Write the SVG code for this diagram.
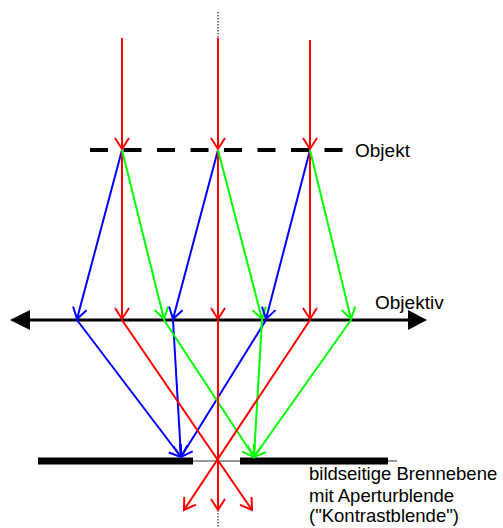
<svg xmlns="http://www.w3.org/2000/svg" width="503" height="528" viewBox="0 0 503 528">
<style>
.r{stroke:#ff0000;stroke-width:2;fill:none}
.b{stroke:#0000ff;stroke-width:2;fill:none}
.g{stroke:#00ff00;stroke-width:2;fill:none}
.t{font-family:"Liberation Sans",Arial,sans-serif;font-size:19px;fill:#000}
.s{font-size:18.5px}
</style>
<defs>
<marker id="ar" markerUnits="userSpaceOnUse" markerWidth="20" markerHeight="20" viewBox="-12 -10 14 20" refX="0" refY="0" orient="auto"><path d="M-11,-7 L0,0 L-11,7" stroke="#ff0000" stroke-width="2" fill="none"/></marker>
<marker id="ab" markerUnits="userSpaceOnUse" markerWidth="20" markerHeight="20" viewBox="-12 -10 14 20" refX="0" refY="0" orient="auto"><path d="M-11,-7 L0,0 L-11,7" stroke="#0000ff" stroke-width="2" fill="none"/></marker>
<marker id="ag" markerUnits="userSpaceOnUse" markerWidth="20" markerHeight="20" viewBox="-12 -10 14 20" refX="0" refY="0" orient="auto"><path d="M-11,-7 L0,0 L-11,7" stroke="#00ff00" stroke-width="2" fill="none"/></marker>
</defs>
<rect width="503" height="528" fill="#fff"/>
<g id="axis"><line x1="218" y1="12" x2="218" y2="528" stroke="#000" stroke-width="1" stroke-dasharray="1.5,1.5"/></g>
<g id="objekt"><line x1="90" y1="150" x2="343" y2="150" stroke="#000" stroke-width="4" stroke-dasharray="18,15.5"/><text class="t" x="355" y="157">Objekt</text></g>
<g id="objektiv"><line x1="28" y1="320" x2="410" y2="320" stroke="#000" stroke-width="3"/><polygon points="10,320 30,310 30,330" fill="#000"/><polygon points="427,320 408,310 408,330" fill="#000"/><text class="t" x="375" y="309">Objektiv</text></g>
<g id="focal-plane"><line x1="38" y1="461" x2="397" y2="461" stroke="#777" stroke-width="1.5"/><line x1="38" y1="461" x2="193" y2="461" stroke="#000" stroke-width="7"/><line x1="240" y1="461" x2="388" y2="461" stroke="#000" stroke-width="7"/>
<text class="t s" x="309" y="480">bildseitige Brennebene</text><text class="t s" x="309" y="502">mit Aperturblende</text><text class="t s" x="309" y="522">("Kontrastblende")</text></g>
<g id="connectors">
<line class="r" x1="122" y1="38" x2="122" y2="149" marker-end="url(#ar)"/>
<line class="r" x1="218" y1="38" x2="218" y2="149" marker-end="url(#ar)"/>
<line class="r" x1="310" y1="40" x2="310" y2="149" marker-end="url(#ar)"/>
<line class="b" x1="122" y1="150" x2="77" y2="319" marker-end="url(#ab)"/>
<line class="r" x1="122" y1="150" x2="122" y2="319" marker-end="url(#ar)"/>
<line class="g" x1="122" y1="150" x2="164" y2="319" marker-end="url(#ag)"/>
<line class="b" x1="218" y1="150" x2="173" y2="319" marker-end="url(#ab)"/>
<line class="r" x1="218" y1="150" x2="218" y2="319" marker-end="url(#ar)"/>
<line class="g" x1="218" y1="150" x2="262" y2="319" marker-end="url(#ag)"/>
<line class="b" x1="310" y1="150" x2="266" y2="319" marker-end="url(#ab)"/>
<line class="r" x1="310" y1="150" x2="310" y2="319" marker-end="url(#ar)"/>
<line class="g" x1="310" y1="150" x2="351" y2="319" marker-end="url(#ag)"/>
<line class="b" x1="77" y1="320" x2="181" y2="457" marker-end="url(#ab)"/>
<line class="b" x1="173" y1="320" x2="181" y2="457" marker-end="url(#ab)"/>
<line class="b" x1="266" y1="320" x2="181" y2="457" marker-end="url(#ab)"/>
<line class="g" x1="164" y1="320" x2="254" y2="457" marker-end="url(#ag)"/>
<line class="g" x1="262" y1="320" x2="254" y2="457" marker-end="url(#ag)"/>
<line class="g" x1="351" y1="320" x2="254" y2="457" marker-end="url(#ag)"/>
<line class="r" x1="122" y1="320" x2="252" y2="510" marker-end="url(#ar)"/>
<line class="r" x1="218" y1="320" x2="218" y2="510" marker-end="url(#ar)"/>
<line class="r" x1="310" y1="320" x2="184" y2="510" marker-end="url(#ar)"/>
</g>
</svg>
